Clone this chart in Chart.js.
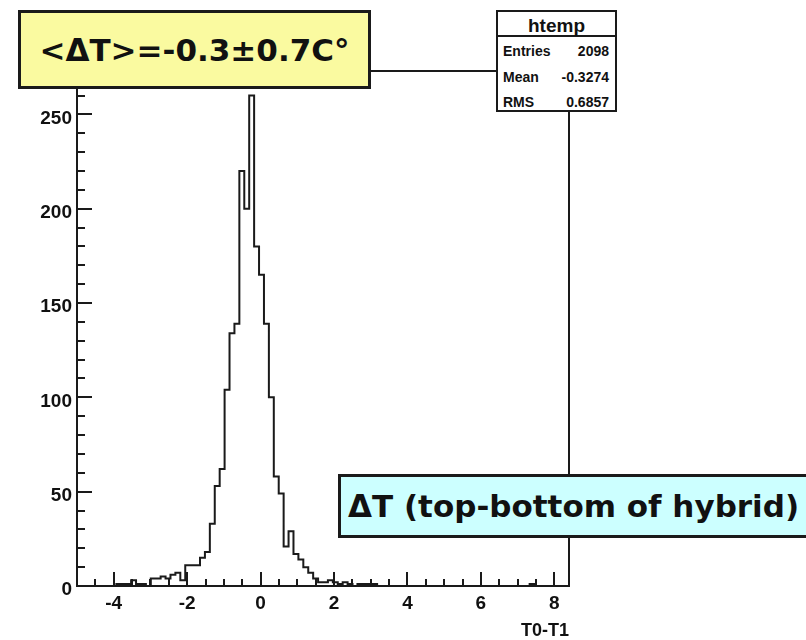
<!DOCTYPE html>
<html>
<head>
<meta charset="utf-8">
<script src="https://cdn.jsdelivr.net/npm/chart.js@4.4.1/dist/chart.umd.min.js"></script>
<style>
  html, body { margin: 0; padding: 0; background: #fff; overflow: hidden; }
  #wrap { position: relative; width: 806px; height: 640px; }
  #chart { position: absolute; left: 0; top: 0; }
  .box { position: absolute; box-sizing: border-box; border: 3px solid #1a1a1a; color: #111;
         font-family: "DejaVu Sans", sans-serif; font-weight: bold; }
  #mean { left: 18px; top: 10px; width: 353px; height: 79px; background: #fafaa0;
          font-size: 31px; display: flex; align-items: center; justify-content: center; }
  #what { left: 338px; top: 474px; width: 520px; height: 64px; background: #ccffff;
          font-size: 31px; line-height: 58px; padding-left: 7px; white-space: nowrap; }
  #stats { left: 496px; top: 10px; width: 121px; height: 102px; background: #fff; border-width: 2px;
           font-family: "Liberation Sans", Arial, sans-serif; }
  #stats .title { position: absolute; left: 0; right: 0; top: 0; height: 23px; border-bottom: 2px solid #1a1a1a;
                  text-align: center; font-size: 19px; line-height: 27px; }
  #stats .row { position: absolute; left: 5px; right: 6px; font-size: 14px; line-height: 16px; }
  #stats .row span { float: right; }
</style>
</head>
<body>
<div id="wrap">
  <canvas id="chart" width="806" height="640"></canvas>
  <div class="box" id="mean">&lt;ΔT&gt;=-0.3±0.7C°</div>
  <div class="box" id="what">ΔT (top-bottom of hybrid)</div>
  <div class="box" id="stats">
    <div class="title">htemp</div>
    <div class="row" style="top:31px">Entries<span>2098</span></div>
    <div class="row" style="top:57px">Mean<span>-0.3274</span></div>
    <div class="row" style="top:82px">RMS<span>0.6857</span></div>
  </div>
</div>
<script>
// histogram htemp: T0-T1, 100 bins from -5 to 8.4
const xLow = -5;
const xHigh = 8.4;
const counts = [
    0, 0, 0, 0, 0, 0, 0, 0, 1, 1,
    1, 3, 1, 1, 0, 4, 4, 5, 4, 6,
    7, 3, 11, 11, 11, 15, 18, 33, 53, 62,
    104, 134, 139, 220, 200, 260, 180, 165, 139, 100,
    58, 49, 21, 29, 17, 14, 10, 7, 4, 2,
    2, 3, 2, 1, 2, 1, 0, 1, 1, 1,
    1, 0, 0, 0, 0, 0, 0, 0, 0, 0,
    0, 0, 0, 0, 0, 0, 0, 0, 0, 0,
    0, 0, 0, 0, 0, 0, 0, 0, 0, 0,
    0, 0, 1, 0, 0, 0, 0, 0, 0, 0
];
const xTicks = [-4, -2, 0, 2, 4, 6, 8];
const yTicks = [0, 50, 100, 150, 200, 250];
const yMax = 273;

const binWidth = (xHigh - xLow) / counts.length;
const points = counts.map((c, i) => ({ x: xLow + i * binWidth, y: c }));
points.push({ x: xHigh, y: counts[counts.length - 1] });

const ink = '#1a1a1a';
const labelFont = { family: '"Liberation Sans", Arial, sans-serif', size: 19, weight: 'bold' };

// ROOT style frame with inward ticks
const frameTicks = {
    id: 'frameTicks',
    afterDatasetsDraw(chart) {
        const { ctx, chartArea: a, scales: { x, y } } = chart;
        ctx.save();
        ctx.strokeStyle = ink;
        ctx.lineWidth = 2;
        ctx.beginPath();
        for (let k = -9; k <= 16; k++) {
            const px = Math.round(x.getPixelForValue(k / 2));
            ctx.moveTo(px, a.bottom);
            ctx.lineTo(px, a.bottom - (k % 4 === 0 ? 14 : 7));
        }
        for (let k = 0; k <= 27; k++) {
            const py = Math.round(y.getPixelForValue(k * 10));
            ctx.moveTo(a.left, py);
            ctx.lineTo(a.left + (k % 5 === 0 ? 15 : 8), py);
        }
        ctx.stroke();
        ctx.strokeRect(a.left, a.top, a.right - a.left, a.bottom - a.top);
        ctx.restore();
    }
};

new Chart(document.getElementById('chart').getContext('2d'), {
    type: 'line',
    data: {
        datasets: [{
            label: 'htemp',
            data: points,
            stepped: true,
            borderColor: ink,
            borderWidth: 2,
            pointRadius: 0,
            fill: false
        }]
    },
    options: {
        responsive: false,
        animation: false,
        devicePixelRatio: 1,
        layout: { padding: { left: 0, top: 71, right: 237, bottom: 0 } },
        plugins: {
            legend: { display: false },
            tooltip: { enabled: false }
        },
        scales: {
            x: {
                type: 'linear',
                min: xLow,
                max: xHigh,
                afterBuildTicks: s => { s.ticks = xTicks.map(v => ({ value: v })); },
                afterFit: s => { s.height = 54; },
                grid: { display: false, drawTicks: false },
                border: { display: false },
                ticks: { font: labelFont, color: '#111', padding: 6, maxRotation: 0, autoSkip: false },
                title: {
                    display: true, text: 'T0-T1', align: 'end', color: '#111',
                    font: { family: '"Liberation Sans", Arial, sans-serif', size: 18, weight: 'bold' },
                    padding: { top: 0, bottom: -2 }
                }
            },
            y: {
                min: 0,
                max: yMax,
                afterBuildTicks: s => { s.ticks = yTicks.map(v => ({ value: v })); },
                afterFit: s => { s.width = 77; },
                grid: { display: false, drawTicks: false },
                border: { display: false },
                ticks: { font: labelFont, color: '#111', padding: 5, labelOffset: 4 }
            }
        }
    },
    plugins: [frameTicks]
});
</script>
</body>
</html>
